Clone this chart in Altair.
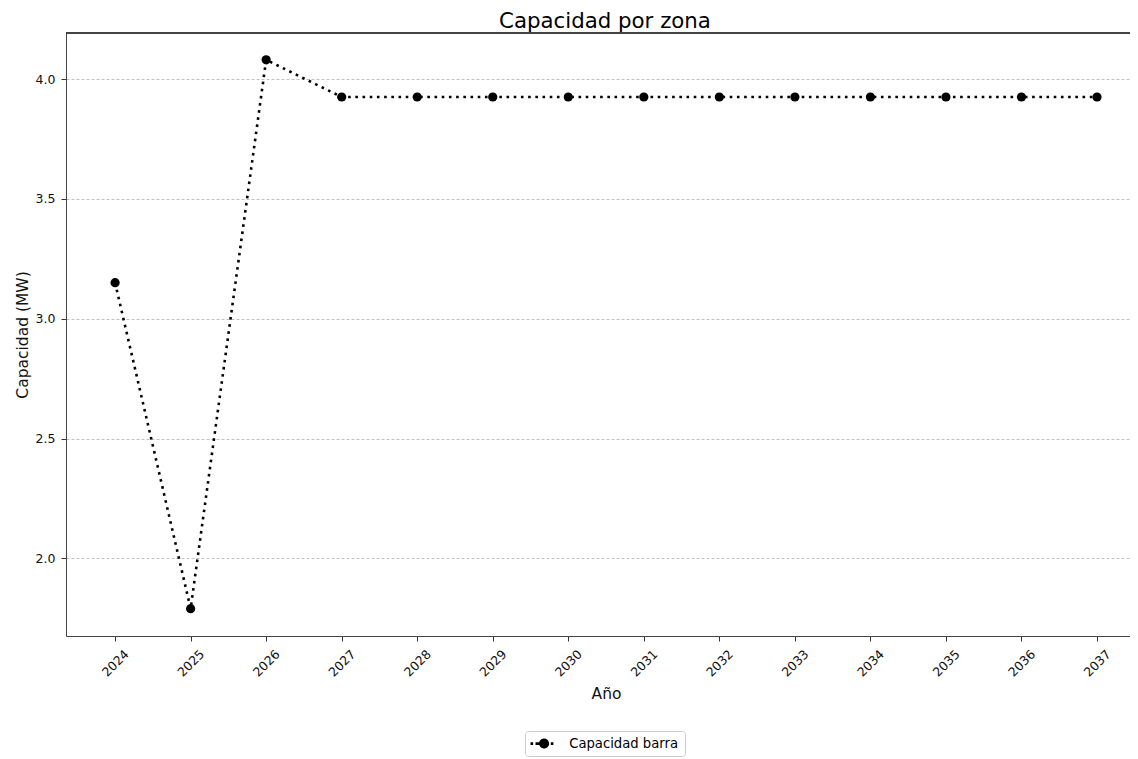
import altair as alt
import pandas as pd

# ---- data ----
anios = [2024, 2025, 2026, 2027, 2028, 2029, 2030, 2031, 2032, 2033, 2034, 2035, 2036, 2037]
capacidad = [3.15, 1.79, 4.08, 3.925, 3.925, 3.925, 3.925, 3.925, 3.925, 3.925, 3.925, 3.925, 3.925, 3.925]
serie = ["Capacidad barra"] * len(anios)
y_ticks = [2.0, 2.5, 3.0, 3.5, 4.0]

df = pd.DataFrame({"Año": anios, "Capacidad": capacidad, "Serie": serie})

FONT = "DejaVu Sans"

x_enc = alt.X(
    "Año:Q",
    scale=alt.Scale(domain=[2023.35, 2037.437], nice=False, zero=False),
    axis=alt.Axis(
        values=anios, format="d", labelAngle=315, labelAlign="center",
        labelBaseline="middle", labelPadding=22, tickSize=5, grid=False,
        title="Año", titleX=540, titleY=62, titleBaseline="alphabetic",
        titleAlign="center", titleFontSize=15.5,
    ),
)
y_enc = alt.Y(
    "Capacidad:Q",
    scale=alt.Scale(domain=[1.676, 4.192], nice=False, zero=False),
    axis=alt.Axis(
        values=y_ticks, format=".1f", grid=True, gridDash=[3, 2],
        gridColor="#b0b0b0", gridWidth=0.8, tickSize=5, labelPadding=6,
        title="Capacidad (MW)", titleX=-39, titleY=301.5, titleAngle=270,
        titleBaseline="alphabetic", titleAlign="center", titleFontSize=15.5,
    ),
)

legend_path = (
    "M 1.77 0 A 0.77 0.77 0 1 1 0.23 0 A 0.77 0.77 0 1 1 1.77 0 Z "
    "M -1.09 -0.2 L -0.69 -0.2 L -0.69 0.2 L -1.09 0.2 Z "
    "M -0.32 -0.2 L 0.3 -0.2 L 0.3 0.2 L -0.32 0.2 Z "
    "M 2.03 -0.2 L 2.43 -0.2 L 2.43 0.2 L 2.03 0.2 Z"
)

base = alt.Chart(df)

line = base.mark_line(
    color="black", strokeWidth=2.6, strokeDash=[2.6, 4.6], strokeCap="butt"
).encode(x=x_enc, y=y_enc)

points = base.mark_point(filled=True, size=85, opacity=1).encode(
    x="Año:Q",
    y="Capacidad:Q",
    color=alt.Color(
        "Serie:N",
        scale=alt.Scale(domain=["Capacidad barra"], range=["black"]),
        legend=alt.Legend(
            title=None, orient="none", legendX=459, legendY=698, padding=6,
            strokeColor="#cccccc", fillColor="white", cornerRadius=3,
            symbolType=legend_path, symbolSize=169, symbolStrokeWidth=0,
            labelFont=FONT, labelFontSize=13.2, labelColor="black", labelOffset=25,
        ),
    ),
)

top_spine = base.mark_rule(color="#444444", strokeWidth=1).encode(y=alt.value(0))

chart = (
    alt.layer(line, points, top_spine)
    .properties(
        width=1064,
        height=603,
        autosize=alt.AutoSizeParams(type="none"),
        padding={"left": 58, "top": 25, "right": 0, "bottom": 121},
        title=alt.Title(
            "Capacidad por zona", font=FONT, fontSize=21.3, fontWeight="normal",
            color="black", anchor="middle", baseline="alphabetic", offset=-17, dx=7,
        ),
    )
    .configure_view(stroke=None)
    .configure_axis(
        labelFont=FONT, labelFontSize=12.5, labelColor="#111111",
        titleFont=FONT, titleColor="#111111", titleFontWeight="normal",
        tickColor="#333333", domainColor="#444444", domainWidth=1, tickWidth=1,
    )
)

chart.save("out.html", embed_options={"renderer": "svg", "actions": False})
